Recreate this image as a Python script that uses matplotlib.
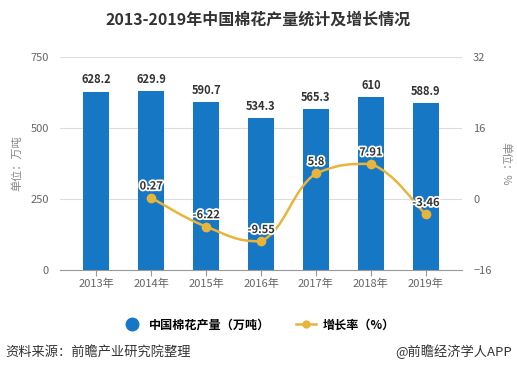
import matplotlib
matplotlib.use("Agg")
import matplotlib.pyplot as plt
import matplotlib.patheffects as pe
from matplotlib.path import Path
from matplotlib.patches import PathPatch
from matplotlib.lines import Line2D
import numpy as np

plt.rcParams['font.family'] = ['Noto Sans CJK SC', 'DejaVu Sans']

categories = ['2013年', '2014年', '2015年', '2016年', '2017年', '2018年', '2019年']
production = [628.2, 629.9, 590.7, 534.3, 565.3, 610, 588.9]
growth = [None, 0.27, -6.22, -9.55, 5.8, 7.91, -3.46]
left_ticks = [0, 250, 500, 750]
right_ticks = [-16, 0, 16, 32]

bar_color = '#1677C5'
line_color = '#E8B43C'
text_gray = '#666666'

fig = plt.figure(figsize=(5.17, 3.71), dpi=100)
ax = fig.add_axes([60/517, 1-270/371, 402/517, 213/371])
ax2 = ax.twinx()

x = np.arange(len(categories))
ax.bar(x, production, width=0.48, color=bar_color, zorder=2)
ax.set_xlim(-0.66, len(categories) - 1 + 0.66)
ax.set_ylim(0, 750)
ax.set_yticks(left_ticks)
ax.set_xticks(x)
ax.set_xticklabels(categories)
ax.grid(axis='y', color='#DDDDDD', linewidth=0.8, zorder=0)
ax.set_axisbelow(True)
for s in ['top', 'right', 'left']:
    ax.spines[s].set_visible(False)
ax.spines['bottom'].set_color('#999999')
ax.tick_params(axis='y', length=0, colors=text_gray, labelsize=8, pad=8)
ax.tick_params(axis='x', length=4, color='#999999', colors=text_gray, labelsize=8, pad=2)
ax.set_ylabel('单位：万吨', color='#888888', fontsize=8, labelpad=6)

for xi, v in zip(x, production):
    ax.text(xi, v + 18, f'{v:g}', ha='center', va='bottom', fontsize=8,
            fontweight='bold', color='#333333', zorder=5)

ax2.set_ylim(-16, 32)
ax2.set_yticks(right_ticks)
for s in ['top', 'right', 'left', 'bottom']:
    ax2.spines[s].set_visible(False)
ax2.tick_params(axis='y', length=0, colors=text_gray, labelsize=8, pad=8)
ax2.set_ylabel('单位：%', color='#888888', fontsize=8, rotation=-90, labelpad=14)

# smooth curve through growth points (cubic Bezier path built from data, no overshoot)
gx = [xi for xi, g in zip(x, growth) if g is not None]
gy = [g for g in growth if g is not None]
pts = np.column_stack([gx, gy]).astype(float)
n = len(pts)
verts = [tuple(pts[0])]
codes = [Path.MOVETO]
k = 0.45
for i in range(n - 1):
    p0 = pts[i - 1] if i > 0 else pts[i]
    p1 = pts[i]
    p2 = pts[i + 1]
    p3 = pts[i + 2] if i + 2 < n else pts[i + 1]
    c1 = p1 + (p2 - p0) * k / 2
    c2 = p2 - (p3 - p1) * k / 2
    lo, hi = min(p1[1], p2[1]), max(p1[1], p2[1])
    c1[1] = np.clip(c1[1], lo, hi)
    c2[1] = np.clip(c2[1], lo, hi)
    verts += [tuple(c1), tuple(c2), tuple(p2)]
    codes += [Path.CURVE4, Path.CURVE4, Path.CURVE4]
ax2.add_patch(PathPatch(Path(verts, codes), facecolor='none', edgecolor=line_color,
                        linewidth=1.8, zorder=3))
ax2.plot(gx, gy, 'o', color=line_color, markersize=6, zorder=4)
for xi, g in zip(gx, gy):
    ax2.text(xi, g + 1.2, f'{g:g}', ha='center', va='bottom', fontsize=8,
             fontweight='bold', color='#333333', zorder=6,
             path_effects=[pe.withStroke(linewidth=2.5, foreground='white')])

fig.text(0.5, 1-20/371, '2013-2019年中国棉花产量统计及增长情况', ha='center', va='center',
         fontsize=11.5, fontweight='bold', color='#333333')

handles = [Line2D([], [], marker='o', linestyle='none', color=bar_color, markersize=9),
           Line2D([], [], marker='o', color=line_color, markersize=5, linewidth=1.8)]
fig.legend(handles, ['中国棉花产量（万吨）', '增长率（%）'], loc='center',
           bbox_to_anchor=(0.5, 1-325/371), ncol=2, frameon=False,
           handlelength=1.6, columnspacing=2.2, handletextpad=0.6,
           prop={'weight': 'bold', 'size': 8.7})

fig.text(5/517, 1-352/371, '资料来源：前瞻产业研究院整理', ha='left', va='center',
         fontsize=9.5, color='#333333')
fig.text(512/517, 1-352/371, '@前瞻经济学人APP', ha='right', va='center',
         fontsize=9.5, color='#333333')

fig.savefig('out.png', dpi=100)
